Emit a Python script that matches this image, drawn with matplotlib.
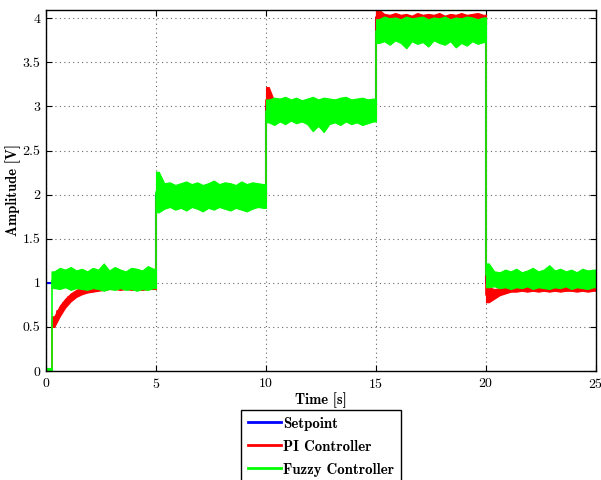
import numpy as np
import matplotlib
matplotlib.use("Agg")
from matplotlib import pyplot as plt
from matplotlib.lines import Line2D

# setpoint steps
sp_time = [0, 5, 10, 15, 20, 25]
sp_level = [1, 2, 3, 4, 1, 1]
# times where the measured signals jump (first one is the start-up delay)
jump_time = [0, 0.25, 5, 10, 15, 20, 25]

# envelopes of the measured signals, one value per 0.25 s window (0 .. 24.75 s)
bin_width = 0.25
green_top = [
    0.03, 1.13, 1.17, 1.15, 1.18, 1.14, 1.16, 1.13, 1.17, 1.15, 1.22, 1.14, 1.18, 1.15, 1.13, 1.17, 1.16, 1.14, 1.19, 1.16,
    2.26, 2.13, 2.14, 2.11, 2.13, 2.15, 2.12, 2.14, 2.11, 2.13, 2.16, 2.12, 2.14, 2.13, 2.11, 2.15, 2.12, 2.14, 2.13, 2.12,
    3.08, 3.10, 3.09, 3.11, 3.08, 3.10, 3.07, 3.09, 3.11, 3.08, 3.10, 3.09, 3.08, 3.10, 3.11, 3.08, 3.09, 3.10, 3.08, 3.09,
    3.99, 4.02, 4.00, 4.01, 3.99, 4.02, 4.00, 4.01, 4.02, 3.99, 4.01, 4.00, 4.02, 3.99, 4.01, 4.00, 4.02, 4.01, 3.99, 4.01,
    1.22, 1.13, 1.12, 1.15, 1.13, 1.16, 1.12, 1.14, 1.17, 1.13, 1.15, 1.20, 1.14, 1.16, 1.13, 1.15, 1.12, 1.16, 1.14, 1.15,
]
green_bottom = [
    0.00, 0.94, 0.93, 0.95, 0.92, 0.94, 0.93, 0.92, 0.94, 0.93, 0.91, 0.93, 0.92, 0.94, 0.92, 0.93, 0.91, 0.93, 0.92, 0.94,
    1.80, 1.84, 1.86, 1.83, 1.85, 1.82, 1.86, 1.84, 1.81, 1.85, 1.83, 1.86, 1.84, 1.82, 1.85, 1.83, 1.81, 1.84, 1.86, 1.85,
    2.82, 2.79, 2.83, 2.80, 2.84, 2.81, 2.83, 2.80, 2.72, 2.78, 2.71, 2.80, 2.82, 2.79, 2.83, 2.80, 2.82, 2.79, 2.81, 2.83,
    3.72, 3.74, 3.70, 3.75, 3.72, 3.66, 3.74, 3.71, 3.73, 3.68, 3.75, 3.72, 3.70, 3.74, 3.67, 3.72, 3.69, 3.74, 3.71, 3.73,
    0.95, 0.96, 0.94, 0.95, 0.93, 0.95, 0.94, 0.96, 0.93, 0.95, 0.94, 0.93, 0.95, 0.94, 0.96, 0.93, 0.95, 0.94, 0.93, 0.95,
]
red_top = [
    0.02, 0.62, 0.74, 0.82, 0.88, 0.92, 0.95, 0.97, 0.98, 0.99, 1.00, 0.99, 1.00, 1.00, 0.99, 1.00, 1.00, 0.99, 1.00, 1.00,
    2.05, 2.05, 2.04, 2.05, 2.03, 2.05, 2.04, 2.05, 2.03, 2.04, 2.05, 2.04, 2.03, 2.05, 2.04, 2.05, 2.03, 2.04, 2.05, 2.04,
    3.22, 3.06, 3.04, 3.05, 3.03, 3.05, 3.04, 3.05, 3.03, 3.04, 3.05, 3.04, 3.03, 3.05, 3.04, 3.05, 3.03, 3.04, 3.05, 3.04,
    4.10, 4.05, 4.04, 4.06, 4.04, 4.05, 4.03, 4.06, 4.04, 4.05, 4.04, 4.06, 4.03, 4.05, 4.04, 4.06, 4.04, 4.05, 4.06, 4.04,
    0.95, 0.93, 0.94, 0.96, 0.97, 0.98, 0.99, 0.98, 0.99, 1.00, 0.99, 0.98, 0.99, 1.00, 0.99, 0.98, 0.99, 1.00, 0.99, 0.99,
]
red_bottom = [
    0.00, 0.50, 0.62, 0.72, 0.79, 0.84, 0.87, 0.89, 0.90, 0.91, 0.92, 0.93, 0.93, 0.92, 0.93, 0.92, 0.93, 0.92, 0.93, 0.93,
    1.84, 1.88, 1.90, 1.89, 1.90, 1.91, 1.89, 1.90, 1.90, 1.89, 1.91, 1.90, 1.89, 1.90, 1.91, 1.90, 1.89, 1.90, 1.90, 1.91,
    2.92, 2.90, 2.91, 2.90, 2.92, 2.91, 2.90, 2.91, 2.92, 2.90, 2.91, 2.90, 2.92, 2.91, 2.90, 2.91, 2.92, 2.90, 2.91, 2.90,
    3.92, 3.93, 3.92, 3.94, 3.93, 3.92, 3.93, 3.94, 3.92, 3.93, 3.92, 3.94, 3.93, 3.92, 3.93, 3.94, 3.92, 3.93, 3.92, 3.93,
    0.78, 0.82, 0.86, 0.88, 0.90, 0.90, 0.91, 0.90, 0.91, 0.90, 0.91, 0.90, 0.91, 0.90, 0.91, 0.91, 0.90, 0.91, 0.90, 0.91,
]

labels = ["Setpoint", "PI Controller", "Fuzzy Controller"]
colors = ["#0000ff", "#ff0000", "#00ff00"]

plt.rcParams["font.family"] = ["cmr10", "DejaVu Serif"]
plt.rcParams["axes.formatter.use_mathtext"] = True
bold = ["cmb10", "DejaVu Serif"]

fig = plt.figure(figsize=(6.01, 4.8), dpi=100)
ax = fig.add_axes([46 / 601, 1 - 371 / 480, 550 / 601, 361.5 / 480])

n_bins = len(green_top)
t_mid = (np.arange(n_bins) + 0.5) * bin_width
t_edge = np.arange(n_bins + 1) * bin_width


def band(top, bottom, color, z):
    top = np.asarray(top)
    bottom = np.asarray(bottom)
    # one polygon per segment so the jumps stay vertical
    for a, b in zip(jump_time[:-1], jump_time[1:]):
        m = (t_mid > a) & (t_mid < b)
        x = np.concatenate([[a], t_mid[m], [b]])
        hi = np.concatenate([[top[m][0]], top[m], [top[m][-1]]])
        lo = np.concatenate([[bottom[m][0]], bottom[m], [bottom[m][-1]]])
        ax.fill_between(x, lo, hi, color=color, lw=0.8, ec=color, zorder=z)
    mid = (top + bottom) / 2
    ax.step(t_edge, np.append(mid, mid[-1]), where="post", color=color, lw=1.2, zorder=z)


ax.step(sp_time, sp_level, where="post", color=colors[0], lw=1.5, zorder=2)
band(red_top, red_bottom, colors[1], 3)
band(green_top, green_bottom, colors[2], 4)

ax.set_xlim(0, 25)
ax.set_ylim(0, 4.1)
ax.set_xticks(np.arange(0, 26, 5))
ax.set_yticks(np.arange(0, 4.01, 0.5))
ax.set_yticklabels(["0", "0.5", "1", "1.5", "2", "2.5", "3", "3.5", "4"])
ax.grid(True, linestyle=(0, (1, 3)), color="#666666", lw=0.8)
ax.tick_params(direction="in", top=True, right=True, labelsize=10, length=4, pad=4)
for s in ax.spines.values():
    s.set_linewidth(1.0)
    s.set_zorder(6)

ax.set_xlabel("Time [s]", family=bold, fontsize=10.5, labelpad=1.5)
ax.set_ylabel("Amplitude [V]", family=bold, fontsize=10.5, labelpad=1)

handles = [Line2D([], [], color=c, lw=2) for c in colors]
leg = fig.legend(handles, labels, loc="upper center", bbox_to_anchor=(321 / 601, 1 - 410 / 480),
                 prop={"family": bold, "size": 10.7}, frameon=True, fancybox=False,
                 edgecolor="black", framealpha=1, handlelength=2.2, handletextpad=0.15,
                 labelspacing=0.6, borderpad=0.45, borderaxespad=0)
leg.get_frame().set_linewidth(1.0)

plt.savefig("out.png", dpi=100)
